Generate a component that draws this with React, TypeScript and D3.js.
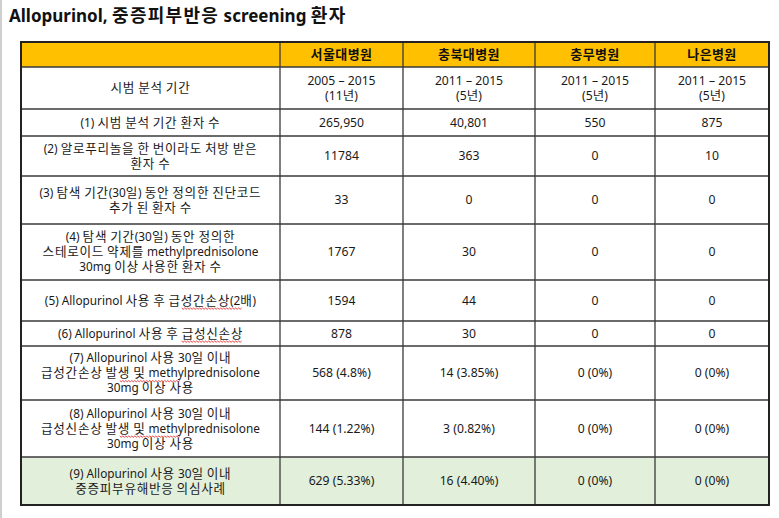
import React, { useEffect, useRef } from "react";
import * as d3 from "d3";

const title = "Allopurinol, 중증피부반응 screening 환자";
const hospitals = ["서울대병원", "충북대병원", "충무병원", "나은병원"];
const rowLabels: string[][] = [
  ["시범 분석 기간"],
  ["(1) 시범 분석 기간 환자 수"],
  ["(2) 알로푸리놀을 한 번이라도 처방 받은", "환자 수"],
  ["(3) 탐색 기간(30일) 동안 정의한 진단코드", "추가 된 환자 수"],
  ["(4) 탐색 기간(30일) 동안 정의한", "스테로이드 약제를 methylprednisolone", "30mg 이상  사용한  환자 수"],
  ["(5) Allopurinol 사용 후 급성간손상(2배)"],
  ["(6) Allopurinol 사용 후 급성신손상"],
  ["(7) Allopurinol 사용 30일 이내", "급성간손상 발생 및 methylprednisolone", "30mg 이상 사용"],
  ["(8) Allopurinol 사용 30일 이내", "급성신손상 발생 및 methylprednisolone", "30mg 이상 사용"],
  ["(9) Allopurinol 사용 30일 이내", "중증피부유해반응 의심사례"],
];
const seoul: string[][] = [["2005 – 2015", "(11년)"], ["265,950"], ["11784"], ["33"], ["1767"], ["1594"], ["878"], ["568 (4.8%)"], ["144 (1.22%)"], ["629 (5.33%)"]];
const chungbuk: string[][] = [["2011 – 2015", "(5년)"], ["40,801"], ["363"], ["0"], ["30"], ["44"], ["30"], ["14 (3.85%)"], ["3 (0.82%)"], ["16 (4.40%)"]];
const chungmu: string[][] = [["2011 – 2015", "(5년)"], ["550"], ["0"], ["0"], ["0"], ["0"], ["0"], ["0 (0%)"], ["0 (0%)"], ["0 (0%)"]];
const naeun: string[][] = [["2011 – 2015", "(5년)"], ["875"], ["10"], ["0"], ["0"], ["0"], ["0"], ["0 (0%)"], ["0 (0%)"], ["0 (0%)"]];
const spellMarks = ["급성간손상", "급성신손상"];

const W = 779, H = 518;
const colEdges = [21, 280, 403, 535, 655, 769];
const rowEdges = [42, 67, 109, 136, 176, 224, 280, 321, 346, 400, 457, 505];
const LATIN = "'Noto Sans', 'Noto Sans CJK KR', sans-serif";
const HANGUL = "'Noto Sans CJK KR', 'Noto Sans', sans-serif";

type Style = { latin: number; hangul: number; ls: number; weight: number };

function splitRuns(s: string) {
  return s.split(/([\uAC00-\uD7A3]+)/).filter((t) => t.length > 0).map((t) => ({ t, h: /[\uAC00-\uD7A3]/.test(t) }));
}

function addLine(
  text: d3.Selection<SVGTextElement, unknown, null, undefined>,
  line: string, x: number, y: number, st: Style,
  onRun?: (node: SVGTSpanElement, run: string) => void
) {
  splitRuns(line).forEach((r, i) => {
    const ts = text.append("tspan").text(r.t)
      .attr("font-family", r.h ? HANGUL : LATIN)
      .attr("font-size", r.h ? st.hangul : st.latin)
      .attr("letter-spacing", r.h ? st.ls : 0)
      .attr("font-weight", st.weight);
    if (i === 0) ts.attr("x", x).attr("y", y);
    if (onRun) onRun(ts.node() as SVGTSpanElement, r.t);
  });
}

export default function App() {
  const ref = useRef<SVGSVGElement>(null);
  useEffect(() => {
    const svg = d3.select(ref.current);
    svg.selectAll("*").remove();
    svg.append("rect").attr("width", W).attr("height", H).attr("fill", "#fff");
    svg.append("rect").attr("x", 0).attr("y", 0).attr("width", 2).attr("height", H).attr("fill", "#cfcfcf");

    const tt = svg.append("text").attr("fill", "#111");
    addLine(tt as any, title, 9, 22, { latin: 17, hangul: 18, ls: 1.3, weight: 700 });

    const columns = [rowLabels, seoul, chungbuk, chungmu, naeun];
    const nRows = rowLabels.length;
    const rowH = (i: number) => rowEdges[i + 1] - rowEdges[i];
    const colX = (c: number) => (colEdges[c] + colEdges[c + 1]) / 2;

    const g = svg.append("g");
    g.append("rect").attr("x", colEdges[0]).attr("y", rowEdges[0]).attr("width", colEdges[5] - colEdges[0]).attr("height", rowH(0)).attr("fill", "#FFC000");
    g.append("rect").attr("x", colEdges[0]).attr("y", rowEdges[nRows]).attr("width", colEdges[5] - colEdges[0]).attr("height", rowH(nRows)).attr("fill", "#E2EFDA");

    hospitals.forEach((h, j) => {
      const t = g.append("text").attr("text-anchor", "middle").attr("fill", "#111");
      addLine(t as any, h, colX(j + 1), (rowEdges[0] + rowEdges[1]) / 2 + 4.6, { latin: 13, hangul: 13, ls: 0.4, weight: 700 });
    });

    const lh = 15;
    const labelStyle: Style = { latin: 11.8, hangul: 12.6, ls: 0.7, weight: 400 };
    const valueStyle: Style = { latin: 12.2, hangul: 12.4, ls: 0.3, weight: 400 };
    columns.forEach((col, c) => {
      col.forEach((lines, r) => {
        const ri = r + 1;
        const cy = rowEdges[ri] + rowH(ri) / 2;
        const cx = colX(c);
        const t = g.append("text").attr("text-anchor", "middle").attr("fill", "#1a1a1a");
        lines.forEach((ln, k) => {
          const base = cy + (k - (lines.length - 1) / 2) * lh + 4.3;
          addLine(t as any, ln, cx, base, c === 0 ? labelStyle : valueStyle, (node, run) => {
            spellMarks.forEach((m) => {
              const idx = run.indexOf(m);
              if (idx < 0) return;
              try {
                const n = node as any;
                const x0 = n.getStartPositionOfChar(idx).x;
                const x1 = n.getEndPositionOfChar(idx + m.length - 1).x;
                const yy = base + 3.2;
                const pts: [number, number][] = [];
                let s = 0;
                for (let x = x0; x <= x1; x += 1.5, s++) pts.push([x, yy + (s % 2 ? 1.3 : 0)]);
                g.append("path").attr("d", d3.line()(pts) as string).attr("fill", "none").attr("stroke", "#e03030").attr("stroke-width", 0.9);
              } catch (e) {}
            });
          });
        });
      });
    });

    const stroke = "#3a3a3a";
    rowEdges.forEach((ry) => {
      g.append("line").attr("x1", colEdges[0]).attr("x2", colEdges[5]).attr("y1", ry).attr("y2", ry).attr("stroke", stroke).attr("stroke-width", 1.3);
    });
    colEdges.forEach((cx) => {
      g.append("line").attr("x1", cx).attr("x2", cx).attr("y1", rowEdges[0]).attr("y2", rowEdges[rowEdges.length - 1]).attr("stroke", stroke).attr("stroke-width", 1.3);
    });
    g.append("rect").attr("x", colEdges[0]).attr("y", rowEdges[0]).attr("width", colEdges[5] - colEdges[0]).attr("height", rowEdges[rowEdges.length - 1] - rowEdges[0])
      .attr("fill", "none").attr("stroke", "#222").attr("stroke-width", 2);
  }, []);
  return <svg ref={ref} width={W} height={H} style={{ position: "absolute", left: 0, top: 0 }} />;
}
